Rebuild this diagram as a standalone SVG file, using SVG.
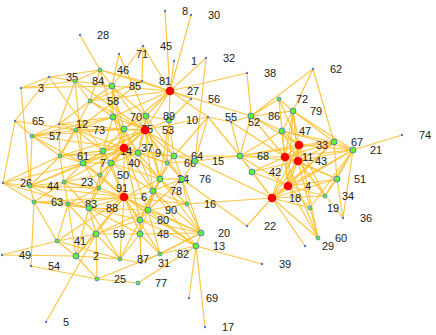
<svg xmlns="http://www.w3.org/2000/svg" width="436" height="335" viewBox="0 0 436 335">
<style>
.e path{stroke:#ffc02e;stroke-width:1.2;fill:none;opacity:0.9}
.r{fill:#ff0000}
.g{fill:#66ee33;stroke:#3b6fd1;stroke-width:0.8}
.s{fill:#66ee33;stroke:#3b6fd1;stroke-width:0.7}
.t{fill:#4a78d4}
text{font-family:"Liberation Sans",Arial,sans-serif;font-size:11px;fill:#222}
</style>
<rect width="436" height="335" fill="#fff"/>
<g class="e" id="connectors">
<path d="M170 91L165 11"/><path d="M170 91L191 15"/><path d="M170 91L143 46"/><path d="M170 91L174 61"/><path d="M170 91L206 58"/><path d="M170 91L247 73"/><path d="M170 91L191 99"/><path d="M170 91L208 117"/><path d="M170 91L251 116"/><path d="M170 91L142 81"/><path d="M170 91L146 116"/><path d="M170 91L169 120"/><path d="M170 91L145 130"/><path d="M170 91L112 86"/><path d="M170 91L113 117"/><path d="M170 91L100 70"/><path d="M170 91L124 129"/><path d="M170 91L90 101"/>
<path d="M206 58L195 161"/><path d="M247 73L251 116"/><path d="M143 46L112 86"/><path d="M143 46L142 81"/><path d="M119 54L112 86"/><path d="M119 54L146 116"/><path d="M80 35L100 70"/><path d="M100 70L112 86"/><path d="M100 70L113 117"/><path d="M100 70L142 81"/><path d="M100 70L90 101"/>
<path d="M49 77L21 88"/><path d="M49 77L100 70"/><path d="M49 77L75 81"/><path d="M49 77L103 151"/><path d="M49 77L15 121"/>
<path d="M75 81L21 88"/><path d="M75 81L100 70"/><path d="M75 81L112 86"/><path d="M75 81L90 101"/><path d="M75 81L59 124"/><path d="M75 81L83 163"/><path d="M75 81L145 130"/>
<path d="M21 88L30 186"/><path d="M21 88L112 86"/><path d="M142 81L90 101"/><path d="M142 81L76 130"/>
<path d="M90 101L112 86"/><path d="M90 101L145 130"/><path d="M90 101L113 117"/><path d="M90 101L60 156"/><path d="M90 101L59 124"/>
<path d="M113 117L112 86"/><path d="M113 117L145 130"/><path d="M113 117L124 148"/><path d="M113 117L124 129"/><path d="M113 117L76 130"/><path d="M113 117L59 124"/><path d="M113 117L103 151"/><path d="M113 117L138 153"/><path d="M113 117L32 136"/>
<path d="M112 86L145 130"/><path d="M112 86L124 148"/><path d="M112 86L146 116"/><path d="M112 86L124 129"/>
<path d="M146 116L145 130"/><path d="M146 116L124 129"/><path d="M146 116L124 148"/><path d="M146 116L169 120"/><path d="M146 116L174 156"/><path d="M146 116L160 179"/><path d="M146 116L138 153"/>
<path d="M169 120L145 130"/><path d="M169 120L167 163"/><path d="M169 120L174 156"/><path d="M169 120L160 179"/><path d="M169 120L191 99"/>
<path d="M124 129L145 130"/><path d="M124 129L124 148"/><path d="M124 129L103 151"/><path d="M124 129L76 130"/><path d="M124 129L59 124"/><path d="M124 129L32 136"/><path d="M124 129L111 163"/><path d="M124 129L138 153"/>
<path d="M145 130L124 148"/><path d="M145 130L138 153"/><path d="M145 130L174 156"/><path d="M145 130L167 163"/><path d="M145 130L160 179"/><path d="M145 130L182 179"/><path d="M145 130L153 191"/><path d="M145 130L208 117"/><path d="M145 130L195 161"/><path d="M145 130L111 163"/><path d="M145 130L103 151"/><path d="M145 130L83 163"/><path d="M145 130L76 130"/><path d="M145 130L60 156"/>
<path d="M208 117L231 122"/><path d="M208 117L195 161"/><path d="M208 117L174 156"/><path d="M231 122L251 116"/><path d="M231 122L240 156"/><path d="M231 122L285 157"/>
<path d="M59 124L76 130"/><path d="M59 124L32 136"/><path d="M59 124L60 156"/><path d="M15 121L32 136"/><path d="M15 121L3 183"/><path d="M15 121L76 130"/>
<path d="M32 136L76 130"/><path d="M32 136L60 156"/><path d="M32 136L83 163"/><path d="M32 136L30 186"/><path d="M32 136L124 148"/>
<path d="M76 130L103 151"/><path d="M76 130L124 148"/><path d="M76 130L83 163"/><path d="M76 130L60 156"/>
<path d="M60 156L83 163"/><path d="M60 156L103 151"/><path d="M60 156L124 148"/><path d="M60 156L3 183"/><path d="M60 156L30 186"/><path d="M60 156L64 182"/><path d="M60 156L138 153"/>
<path d="M103 151L83 163"/><path d="M103 151L111 163"/><path d="M103 151L124 148"/><path d="M103 151L100 175"/><path d="M103 151L99 188"/><path d="M103 151L124 197"/>
<path d="M83 163L111 163"/><path d="M83 163L124 148"/><path d="M83 163L100 175"/><path d="M83 163L99 188"/><path d="M83 163L124 197"/><path d="M83 163L64 182"/><path d="M83 163L30 186"/><path d="M83 163L3 183"/>
<path d="M111 163L124 148"/><path d="M111 163L138 153"/><path d="M111 163L124 197"/><path d="M111 163L99 188"/><path d="M111 163L100 175"/><path d="M111 163L153 191"/><path d="M111 163L160 179"/>
<path d="M138 153L124 148"/><path d="M138 153L167 163"/><path d="M138 153L174 156"/><path d="M138 153L160 179"/><path d="M138 153L153 191"/>
<path d="M124 148L100 175"/><path d="M124 148L99 188"/><path d="M124 148L124 197"/><path d="M124 148L160 179"/><path d="M124 148L153 191"/><path d="M124 148L148 210"/><path d="M124 148L140 220"/><path d="M124 148L167 163"/><path d="M124 148L174 156"/><path d="M124 148L64 182"/><path d="M124 148L30 186"/>
<path d="M167 163L174 156"/><path d="M167 163L195 161"/><path d="M167 163L160 179"/><path d="M167 163L182 179"/>
<path d="M174 156L195 161"/><path d="M174 156L240 156"/><path d="M174 156L182 179"/><path d="M174 156L160 179"/>
<path d="M195 161L240 156"/><path d="M195 161L182 179"/><path d="M195 161L272 198"/>
<path d="M160 179L182 179"/><path d="M160 179L153 191"/><path d="M160 179L124 197"/><path d="M160 179L148 210"/><path d="M160 179L140 220"/><path d="M160 179L201 233"/><path d="M160 179L187 204"/>
<path d="M182 179L153 191"/><path d="M182 179L187 204"/><path d="M182 179L247 226"/><path d="M182 179L201 233"/><path d="M182 179L148 210"/>
<path d="M153 191L124 197"/><path d="M153 191L148 210"/><path d="M153 191L140 220"/><path d="M153 191L201 233"/><path d="M153 191L196 246"/><path d="M153 191L187 204"/>
<path d="M187 204L272 198"/><path d="M187 204L201 233"/><path d="M187 204L124 197"/><path d="M187 204L148 210"/>
<path d="M100 175L99 188"/><path d="M100 175L124 197"/><path d="M100 175L64 182"/><path d="M100 175L89 208"/>
<path d="M99 188L124 197"/><path d="M99 188L64 182"/><path d="M99 188L89 208"/><path d="M99 188L68 204"/><path d="M99 188L30 186"/>
<path d="M124 197L89 208"/><path d="M124 197L68 204"/><path d="M124 197L148 210"/><path d="M124 197L140 220"/><path d="M124 197L140 234"/><path d="M124 197L96 234"/><path d="M124 197L120 259"/><path d="M124 197L76 256"/><path d="M124 197L201 233"/><path d="M124 197L196 246"/><path d="M124 197L34 202"/><path d="M124 197L57 241"/><path d="M124 197L64 182"/><path d="M124 197L30 186"/><path d="M124 197L160 254"/>
<path d="M64 182L30 186"/><path d="M64 182L68 204"/><path d="M64 182L89 208"/><path d="M64 182L34 202"/>
<path d="M3 183L30 186"/><path d="M3 183L34 202"/><path d="M3 183L89 208"/><path d="M30 186L34 202"/><path d="M30 186L68 204"/>
<path d="M34 202L68 204"/><path d="M34 202L57 241"/><path d="M34 202L89 208"/><path d="M34 202L31 266"/>
<path d="M68 204L89 208"/><path d="M68 204L96 234"/><path d="M68 204L57 241"/><path d="M68 204L76 256"/>
<path d="M89 208L96 234"/><path d="M89 208L148 210"/><path d="M89 208L140 220"/><path d="M89 208L140 234"/><path d="M89 208L76 256"/><path d="M89 208L120 259"/>
<path d="M148 210L140 220"/><path d="M148 210L201 233"/><path d="M148 210L196 246"/><path d="M148 210L140 234"/><path d="M148 210L160 254"/><path d="M148 210L96 234"/>
<path d="M140 220L201 233"/><path d="M140 220L196 246"/><path d="M140 220L140 234"/><path d="M140 220L96 234"/><path d="M140 220L120 259"/><path d="M140 220L141 263"/>
<path d="M140 234L141 263"/><path d="M140 234L201 233"/><path d="M140 234L120 259"/><path d="M140 234L96 234"/><path d="M140 234L160 254"/>
<path d="M96 234L57 241"/><path d="M96 234L76 256"/><path d="M96 234L97 279"/><path d="M96 234L46 322"/><path d="M96 234L120 259"/>
<path d="M57 241L2 255"/><path d="M57 241L120 259"/><path d="M57 241L76 256"/><path d="M76 256L2 255"/><path d="M76 256L120 259"/><path d="M76 256L97 279"/>
<path d="M31 266L97 279"/><path d="M97 279L138 283"/><path d="M97 279L160 254"/><path d="M120 259L141 263"/><path d="M138 283L196 246"/>
<path d="M160 254L201 233"/><path d="M160 254L196 246"/><path d="M141 263L201 233"/><path d="M201 233L196 246"/>
<path d="M196 246L189 298"/><path d="M196 246L205 327"/><path d="M196 246L262 264"/><path d="M247 226L272 198"/>
<path d="M272 198L305 246"/><path d="M272 198L318 238"/><path d="M272 198L288 186"/><path d="M272 198L285 157"/><path d="M272 198L298 161"/><path d="M272 198L299 145"/><path d="M272 198L252 172"/><path d="M272 198L240 156"/><path d="M272 198L310 208"/><path d="M272 198L325 196"/><path d="M272 198L353 150"/><path d="M272 198L334 142"/><path d="M272 198L337 179"/>
<path d="M288 186L318 238"/><path d="M288 186L285 157"/><path d="M288 186L298 161"/><path d="M288 186L299 145"/><path d="M288 186L252 172"/><path d="M288 186L240 156"/><path d="M288 186L310 208"/><path d="M288 186L325 196"/><path d="M288 186L337 179"/><path d="M288 186L353 150"/><path d="M288 186L334 142"/><path d="M288 186L282 131"/><path d="M288 186L293 111"/>
<path d="M298 161L299 145"/><path d="M298 161L285 157"/><path d="M298 161L318 238"/><path d="M298 161L343 218"/><path d="M298 161L337 179"/><path d="M298 161L325 196"/><path d="M298 161L353 150"/><path d="M298 161L334 142"/><path d="M298 161L282 131"/><path d="M298 161L293 111"/><path d="M298 161L252 172"/><path d="M298 161L240 156"/>
<path d="M285 157L299 145"/><path d="M285 157L282 131"/><path d="M285 157L293 111"/><path d="M285 157L251 116"/><path d="M285 157L240 156"/><path d="M285 157L252 172"/><path d="M285 157L334 142"/><path d="M285 157L353 150"/><path d="M285 157L337 179"/><path d="M285 157L318 238"/>
<path d="M299 145L282 131"/><path d="M299 145L293 111"/><path d="M299 145L279 99"/><path d="M299 145L251 116"/><path d="M299 145L334 142"/><path d="M299 145L353 150"/><path d="M299 145L240 156"/><path d="M299 145L325 196"/><path d="M299 145L318 238"/>
<path d="M282 131L293 111"/><path d="M282 131L251 116"/><path d="M282 131L279 99"/><path d="M282 131L334 142"/><path d="M282 131L353 150"/><path d="M282 131L240 156"/>
<path d="M293 111L279 99"/><path d="M293 111L313 69"/><path d="M293 111L251 116"/><path d="M293 111L334 142"/><path d="M293 111L353 150"/>
<path d="M279 99L251 116"/><path d="M313 69L334 142"/><path d="M313 69L251 116"/>
<path d="M334 142L353 150"/><path d="M334 142L337 179"/><path d="M334 142L240 156"/>
<path d="M353 150L402 135"/><path d="M353 150L337 179"/><path d="M353 150L325 196"/><path d="M353 150L310 208"/><path d="M353 150L343 218"/>
<path d="M337 179L343 218"/><path d="M337 179L325 196"/><path d="M240 156L252 172"/><path d="M240 156L251 116"/><path d="M240 156L208 117"/>
</g>
<g id="nodes">
<g id="n1"><circle class="t" cx="174" cy="61" r="1.2"/><text x="191" y="65">1</text></g>
<g id="n3"><circle class="t" cx="21" cy="88" r="1.2"/><text x="38" y="92">3</text></g>
<g id="n5"><circle class="t" cx="46" cy="322" r="1.2"/><text x="63" y="326">5</text></g>
<g id="n8"><circle class="t" cx="165" cy="11" r="1.2"/><text x="182" y="15">8</text></g>
<g id="n12"><circle class="t" cx="59" cy="124" r="1.2"/><text x="76" y="128">12</text></g>
<g id="n17"><circle class="t" cx="205" cy="327" r="1.2"/><text x="222" y="331">17</text></g>
<g id="n22"><circle class="t" cx="247" cy="226" r="1.2"/><text x="264" y="230">22</text></g>
<g id="n26"><circle class="t" cx="3" cy="183" r="1.2"/><text x="20" y="187">26</text></g>
<g id="n28"><circle class="t" cx="80" cy="35" r="1.2"/><text x="97" y="39">28</text></g>
<g id="n29"><circle class="t" cx="305" cy="246" r="1.2"/><text x="322" y="250">29</text></g>
<g id="n30"><circle class="t" cx="191" cy="15" r="1.2"/><text x="208" y="19">30</text></g>
<g id="n31"><circle class="t" cx="141" cy="263" r="1.2"/><text x="158" y="267">31</text></g>
<g id="n32"><circle class="t" cx="206" cy="58" r="1.2"/><text x="223" y="62">32</text></g>
<g id="n35"><circle class="t" cx="49" cy="77" r="1.2"/><text x="66" y="81">35</text></g>
<g id="n36"><circle class="t" cx="343" cy="218" r="1.2"/><text x="360" y="222">36</text></g>
<g id="n38"><circle class="t" cx="247" cy="73" r="1.2"/><text x="264" y="77">38</text></g>
<g id="n39"><circle class="t" cx="262" cy="264" r="1.2"/><text x="279" y="268">39</text></g>
<g id="n45"><circle class="t" cx="143" cy="46" r="1.2"/><text x="160" y="50">45</text></g>
<g id="n49"><circle class="t" cx="2" cy="255" r="1.2"/><text x="19" y="259">49</text></g>
<g id="n52"><circle class="t" cx="231" cy="122" r="1.2"/><text x="248" y="126">52</text></g>
<g id="n54"><circle class="t" cx="31" cy="266" r="1.2"/><text x="48" y="270">54</text></g>
<g id="n55"><circle class="t" cx="208" cy="117" r="1.2"/><text x="225" y="121">55</text></g>
<g id="n56"><circle class="t" cx="191" cy="99" r="1.2"/><text x="208" y="103">56</text></g>
<g id="n62"><circle class="t" cx="313" cy="69" r="1.2"/><text x="330" y="73">62</text></g>
<g id="n65"><circle class="t" cx="15" cy="121" r="1.2"/><text x="32" y="125">65</text></g>
<g id="n69"><circle class="t" cx="189" cy="298" r="1.2"/><text x="206" y="302">69</text></g>
<g id="n71"><circle class="t" cx="119" cy="54" r="1.2"/><text x="136" y="58">71</text></g>
<g id="n74"><circle class="t" cx="402" cy="135" r="1.2"/><text x="419" y="139">74</text></g>
<g id="n81"><circle class="t" cx="142" cy="81" r="1.2"/><text x="159" y="85">81</text></g>
<g id="n16"><circle class="s" cx="187" cy="204" r="2"/><text x="204" y="208">16</text></g>
<g id="n19"><circle class="s" cx="310" cy="208" r="2"/><text x="327" y="212">19</text></g>
<g id="n23"><circle class="s" cx="64" cy="182" r="2"/><text x="81" y="186">23</text></g>
<g id="n25"><circle class="s" cx="97" cy="279" r="2"/><text x="114" y="283">25</text></g>
<g id="n34"><circle class="s" cx="325" cy="196" r="2"/><text x="342" y="200">34</text></g>
<g id="n41"><circle class="s" cx="57" cy="241" r="2"/><text x="74" y="245">41</text></g>
<g id="n44"><circle class="s" cx="30" cy="186" r="2"/><text x="47" y="190">44</text></g>
<g id="n46"><circle class="s" cx="100" cy="70" r="2"/><text x="117" y="74">46</text></g>
<g id="n50"><circle class="s" cx="100" cy="175" r="2"/><text x="117" y="179">50</text></g>
<g id="n57"><circle class="s" cx="32" cy="136" r="2"/><text x="49" y="140">57</text></g>
<g id="n58"><circle class="s" cx="90" cy="101" r="2"/><text x="107" y="105">58</text></g>
<g id="n60"><circle class="s" cx="318" cy="238" r="2"/><text x="335" y="242">60</text></g>
<g id="n61"><circle class="s" cx="60" cy="156" r="2"/><text x="77" y="160">61</text></g>
<g id="n63"><circle class="s" cx="34" cy="202" r="2"/><text x="51" y="206">63</text></g>
<g id="n66"><circle class="s" cx="167" cy="163" r="2"/><text x="184" y="167">66</text></g>
<g id="n72"><circle class="s" cx="279" cy="99" r="2"/><text x="296" y="103">72</text></g>
<g id="n73"><circle class="s" cx="76" cy="130" r="2"/><text x="93" y="134">73</text></g>
<g id="n77"><circle class="s" cx="138" cy="283" r="2"/><text x="155" y="287">77</text></g>
<g id="n82"><circle class="s" cx="160" cy="254" r="2"/><text x="177" y="258">82</text></g>
<g id="n83"><circle class="s" cx="68" cy="204" r="2"/><text x="85" y="208">83</text></g>
<g id="n84"><circle class="s" cx="75" cy="81" r="2"/><text x="92" y="85">84</text></g>
<g id="n87"><circle class="s" cx="120" cy="259" r="2"/><text x="137" y="263">87</text></g>
<g id="n91"><circle class="s" cx="99" cy="188" r="2"/><text x="116" y="192">91</text></g>
<g id="n2"><circle class="g" cx="76" cy="256" r="3"/><text x="93" y="260">2</text></g>
<g id="n7"><circle class="g" cx="83" cy="163" r="3"/><text x="100" y="167">7</text></g>
<g id="n9"><circle class="g" cx="138" cy="153" r="3"/><text x="155" y="157">9</text></g>
<g id="n10"><circle class="g" cx="169" cy="120" r="3"/><text x="186" y="124">10</text></g>
<g id="n13"><circle class="g" cx="196" cy="246" r="3"/><text x="213" y="250">13</text></g>
<g id="n14"><circle class="g" cx="103" cy="151" r="3"/><text x="120" y="155">14</text></g>
<g id="n20"><circle class="g" cx="201" cy="233" r="3"/><text x="218" y="237">20</text></g>
<g id="n21"><circle class="g" cx="353" cy="150" r="3"/><text x="370" y="154">21</text></g>
<g id="n24"><circle class="g" cx="160" cy="179" r="3"/><text x="177" y="183">24</text></g>
<g id="n40"><circle class="g" cx="111" cy="163" r="3"/><text x="128" y="167">40</text></g>
<g id="n42"><circle class="g" cx="252" cy="172" r="3"/><text x="269" y="176">42</text></g>
<g id="n47"><circle class="g" cx="282" cy="131" r="3"/><text x="299" y="135">47</text></g>
<g id="n48"><circle class="g" cx="140" cy="234" r="3"/><text x="157" y="238">48</text></g>
<g id="n51"><circle class="g" cx="337" cy="179" r="3"/><text x="354" y="183">51</text></g>
<g id="n59"><circle class="g" cx="96" cy="234" r="3"/><text x="113" y="238">59</text></g>
<g id="n64"><circle class="g" cx="174" cy="156" r="3"/><text x="191" y="160">64</text></g>
<g id="n15"><circle class="g" cx="195" cy="161" r="3"/><text x="212" y="165">15</text></g>
<g id="n67"><circle class="g" cx="334" cy="142" r="3"/><text x="351" y="146">67</text></g>
<g id="n68"><circle class="g" cx="240" cy="156" r="3"/><text x="257" y="160">68</text></g>
<g id="n70"><circle class="g" cx="113" cy="117" r="3"/><text x="130" y="121">70</text></g>
<g id="n75"><circle class="g" cx="124" cy="129" r="3"/><text x="141" y="133">75</text></g>
<g id="n76"><circle class="g" cx="182" cy="179" r="3"/><text x="199" y="183">76</text></g>
<g id="n78"><circle class="g" cx="153" cy="191" r="3"/><text x="170" y="195">78</text></g>
<g id="n79"><circle class="g" cx="293" cy="111" r="3"/><text x="310" y="115">79</text></g>
<g id="n80"><circle class="g" cx="140" cy="220" r="3"/><text x="157" y="224">80</text></g>
<g id="n85"><circle class="g" cx="112" cy="86" r="3"/><text x="129" y="90">85</text></g>
<g id="n86"><circle class="g" cx="251" cy="116" r="3"/><text x="268" y="120">86</text></g>
<g id="n88"><circle class="g" cx="89" cy="208" r="3"/><text x="106" y="212">88</text></g>
<g id="n89"><circle class="g" cx="146" cy="116" r="3"/><text x="163" y="120">89</text></g>
<g id="n90"><circle class="g" cx="148" cy="210" r="3"/><text x="165" y="214">90</text></g>
<g id="n27"><circle class="r" cx="170" cy="91" r="4.3"/><text x="187" y="95">27</text></g>
<g id="n53"><circle class="r" cx="145" cy="130" r="4.3"/><text x="162" y="134">53</text></g>
<g id="n37"><circle class="r" cx="124" cy="148" r="4.3"/><text x="141" y="152">37</text></g>
<g id="n6"><circle class="r" cx="124" cy="197" r="4.3"/><text x="141" y="201">6</text></g>
<g id="n33"><circle class="r" cx="299" cy="145" r="4.3"/><text x="316" y="149">33</text></g>
<g id="n11"><circle class="r" cx="285" cy="157" r="4.3"/><text x="302" y="161">11</text></g>
<g id="n43"><circle class="r" cx="298" cy="161" r="4.3"/><text x="315" y="165">43</text></g>
<g id="n4"><circle class="r" cx="288" cy="186" r="4.3"/><text x="305" y="190">4</text></g>
<g id="n18"><circle class="r" cx="272" cy="198" r="4.3"/><text x="289" y="202">18</text></g>
</g>
</svg>
